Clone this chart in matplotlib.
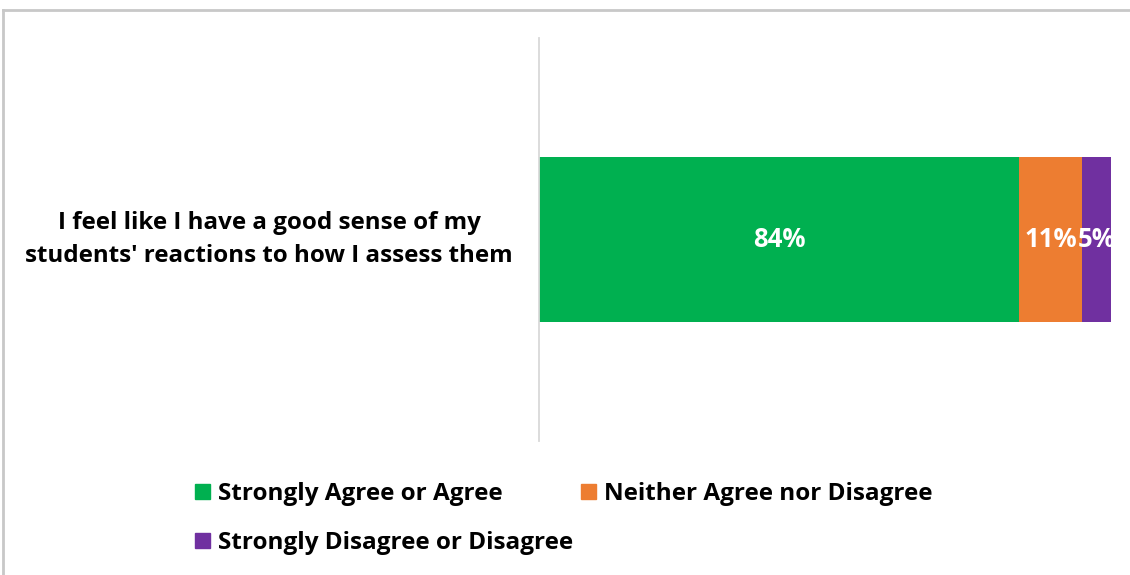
import matplotlib
matplotlib.use('Agg')
import matplotlib.pyplot as plt
import matplotlib.patches as patches
import matplotlib.lines as mlines
import matplotlib.transforms as transforms

# data
question = "I feel like I have a good sense of my\nstudents' reactions to how I assess them"
series = ['Strongly Agree or Agree', 'Neither Agree nor Disagree', 'Strongly Disagree or Disagree']
values = [84, 11, 5]
colors = ['#00B050', '#ED7D31', '#7030A0']

plt.rcParams['font.family'] = ['Open Sans', 'DejaVu Sans']
plt.rcParams['font.weight'] = 'bold'

fig = plt.figure(figsize = (11.3, 5.75), dpi = 100)
ax = fig.add_axes([539 / 1130, 1 - 441 / 575, 572 / 1130, 403 / 575])

left = 0
for name, val, col in zip(series, values, colors):
	ax.barh(0, val, left = left, height = 0.407, color = col, label = name, zorder = 2)
	ax.text(left + val / 2, 0, '%d%%' % val, color = 'white', fontsize = 18.5, fontweight = 'bold',
		ha = 'center', va = 'center', zorder = 3)
	left += val

ax.set_xlim(0, 100)
ax.set_ylim(-0.5, 0.5)
for side in ['top', 'right', 'bottom']:
	ax.spines[side].set_visible(False)
ax.spines['left'].set_color('#d9d9d9')
ax.spines['left'].set_linewidth(1.3)
ax.set_xticks([])
ax.set_yticks([])

# category label, centred left of the axis
ax.text(269 / 1130, 0, question, transform = transforms.blended_transform_factory(fig.transFigure, ax.transData),
	fontsize = 17.4, fontweight = 'bold', linespacing = 1.5, ha = 'center', va = 'center', multialignment = 'center')

# legend, row-major like the original
handles = [patches.Patch(color = c) for c in colors]
order = [0, 2, 1]
fig.legend([handles[i] for i in order], [series[i] for i in order], ncol = 2,
	loc = 'upper left', bbox_to_anchor = (195 / 1130, 1 - 482 / 575), frameon = False,
	borderpad = 0, borderaxespad = 0,
	prop = {'size': 17.5, 'weight': 'bold'}, handlelength = 0.62, handleheight = 0.62,
	handletextpad = 0.33, columnspacing = 0.3, labelspacing = 1.03)

# chart border
fig.add_artist(mlines.Line2D([3 / 1130, 3 / 1130], [0, 1 - 10 / 575], color = '#c8c8c8', linewidth = 2, transform = fig.transFigure))
fig.add_artist(mlines.Line2D([3 / 1130, 1], [1 - 10 / 575, 1 - 10 / 575], color = '#c8c8c8', linewidth = 2, transform = fig.transFigure))

fig.savefig('out.png', dpi = 100, facecolor = 'white')
